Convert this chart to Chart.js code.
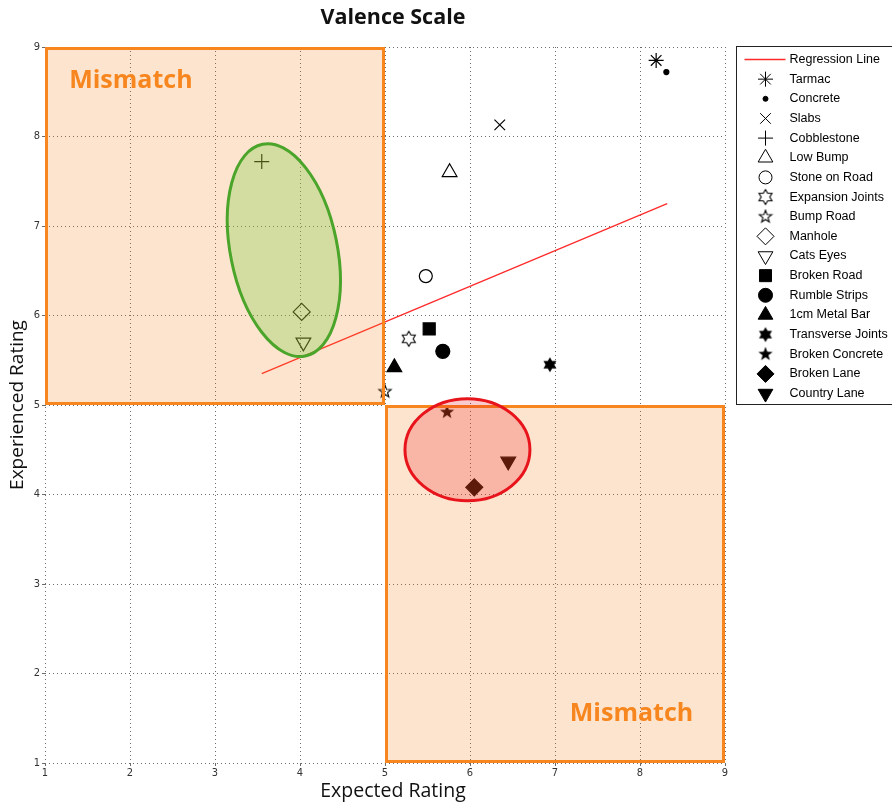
<!DOCTYPE html>
<html>
<head>
<meta charset="utf-8">
<title>Valence Scale</title>
<script src="https://cdn.jsdelivr.net/npm/chart.js@4/dist/chart.umd.min.js"></script>
<style>
  html, body { margin: 0; padding: 0; background: #ffffff; }
  #wrap { width: 892px; height: 804px; position: relative; }
</style>
</head>
<body>
<div id="wrap"><canvas id="chart" width="892" height="804"></canvas></div>
<script>
// ---- data ----
const surfaceNames = [
  'Tarmac', 'Concrete', 'Slabs', 'Cobblestone', 'Low Bump', 'Stone on Road',
  'Expansion Joints', 'Bump Road', 'Manhole', 'Cats Eyes', 'Broken Road',
  'Rumble Strips', '1cm Metal Bar', 'Transverse Joints', 'Broken Concrete',
  'Broken Lane', 'Country Lane'
];
const expectedRating = [8.19, 8.31, 6.35, 3.55, 5.76, 5.48, 5.28, 5.00, 4.02, 4.04, 5.52, 5.68, 5.11, 6.94, 5.73, 6.05, 6.45];
const experiencedRating = [8.85, 8.72, 8.13, 7.72, 7.60, 6.44, 5.74, 5.15, 6.04, 5.70, 5.85, 5.60, 5.42, 5.45, 4.92, 4.08, 4.37];

const regressionX = [3.55, 8.32];
const regressionY = [5.35, 7.25];

const xTicks = [1, 2, 3, 4, 5, 6, 7, 8, 9];
const yTicks = [1, 2, 3, 4, 5, 6, 7, 8, 9];

// mismatch quadrants: [xFrom, xTo, yFrom, yTo]
const mismatchUpperLeft = [1, 5, 5, 9];
const mismatchLowerRight = [5, 9, 1, 5];

// ---- marker shapes that Chart.js does not provide ----
function makeMarker(size, drawFn) {
  const c = document.createElement('canvas');
  c.width = size; c.height = size;
  const g = c.getContext('2d');
  g.translate(size / 2, size / 2);
  drawFn(g);
  return c;
}
function starPath(g, points, outer, inner) {
  g.beginPath();
  for (let i = 0; i < points * 2; i++) {
    const r = i % 2 === 0 ? outer : inner;
    const a = -Math.PI / 2 + i * Math.PI / points;
    const px = Math.cos(a) * r, py = Math.sin(a) * r;
    if (i === 0) g.moveTo(px, py); else g.lineTo(px, py);
  }
  g.closePath();
}
const hexOpen = makeMarker(18, g => { starPath(g, 6, 7.5, 7.5 / Math.sqrt(3)); g.lineWidth = 1.1; g.strokeStyle = '#000'; g.stroke(); });
const hexFilled = makeMarker(18, g => { starPath(g, 6, 7.5, 7.5 / Math.sqrt(3)); g.fillStyle = '#000'; g.fill(); });
const starOpen = makeMarker(16, g => { starPath(g, 5, 6.5, 2.7); g.lineWidth = 1.1; g.strokeStyle = '#000'; g.stroke(); });
const starFilled = makeMarker(18, g => { starPath(g, 5, 7.5, 3.1); g.fillStyle = '#000'; g.fill(); });

// marker appearance per surface (same order as surfaceNames)
const markerStyles = [
  { style: 'star', r: 7.5, fill: false },
  { style: 'circle', r: 2.5, fill: true },
  { style: 'crossRot', r: 7.5, fill: false },
  { style: 'cross', r: 7.5, fill: false },
  { style: 'triangle', r: 8.5, fill: false },
  { style: 'circle', r: 6.5, fill: false },
  { style: hexOpen, r: 8, fill: false },
  { style: starOpen, r: 7, fill: false },
  { style: 'rectRot', r: 8.5, fill: false },
  { style: 'triangle', r: 8.5, fill: false, rot: 180 },
  { style: 'rect', r: 8.5, fill: true },
  { style: 'circle', r: 7, fill: true },
  { style: 'triangle', r: 8.5, fill: true },
  { style: hexFilled, r: 8, fill: true },
  { style: starFilled, r: 8, fill: true },
  { style: 'rectRot', r: 8.5, fill: true },
  { style: 'triangle', r: 8.5, fill: true, rot: 180 }
];

const datasets = [{
  type: 'line',
  label: 'Regression Line',
  data: regressionX.map((v, i) => ({ x: v, y: regressionY[i] })),
  borderColor: '#ff2a2a',
  borderWidth: 1.3,
  pointRadius: 0,
  fill: false,
  order: 1
}];
surfaceNames.forEach((name, i) => {
  const m = markerStyles[i];
  datasets.push({
    type: 'scatter',
    label: name,
    data: [{ x: expectedRating[i], y: experiencedRating[i] }],
    pointStyle: m.style,
    pointRadius: m.r,
    pointRotation: m.rot || 0,
    pointBackgroundColor: m.fill ? '#000' : 'rgba(0,0,0,0)',
    pointBorderColor: '#000',
    pointBorderWidth: 1.2,
    order: 0
  });
});

// ---- overlay shading: mismatch quadrants and cluster ellipses ----
const clusterEllipses = [
  { cx: 3.81, cy: 6.73, rx: 0.628, ry: 1.207, rotDeg: -11.4, fill: 'rgba(120,205,60,0.30)', stroke: '#4aa52a' },
  { cx: 5.97, cy: 4.50, rx: 0.735, ry: 0.57, rotDeg: 0, fill: 'rgba(232,20,28,0.22)', stroke: '#e8141c' }
];

const overlayPlugin = {
  id: 'overlayPlugin',
  afterDatasetsDraw(chart) {
    const { ctx, scales: { x, y } } = chart;
    const pxX = Math.abs(x.getPixelForValue(2) - x.getPixelForValue(1));
    const pxY = Math.abs(y.getPixelForValue(2) - y.getPixelForValue(1));
    ctx.save();
    [mismatchUpperLeft, mismatchLowerRight].forEach(q => {
      const l = x.getPixelForValue(q[0]), r = x.getPixelForValue(q[1]);
      const t = y.getPixelForValue(q[3]), b = y.getPixelForValue(q[2]);
      ctx.fillStyle = 'rgba(245,130,32,0.22)';
      ctx.fillRect(l, t, r - l, b - t);
      ctx.strokeStyle = '#f7861f';
      ctx.lineWidth = 3;
      ctx.strokeRect(l + 1.5, t + 1.5, r - l - 3, b - t - 3);
    });
    clusterEllipses.forEach(e => {
      ctx.beginPath();
      ctx.ellipse(x.getPixelForValue(e.cx), y.getPixelForValue(e.cy), e.rx * pxX, e.ry * pxY,
        e.rotDeg * Math.PI / 180, 0, Math.PI * 2);
      ctx.fillStyle = e.fill;
      ctx.fill();
      ctx.strokeStyle = e.stroke;
      ctx.lineWidth = 3;
      ctx.stroke();
    });
    ctx.fillStyle = '#f7861f';
    ctx.font = 'bold 25px "Open Sans", sans-serif';
    ctx.textAlign = 'center';
    ctx.textBaseline = 'middle';
    ctx.fillText('Mismatch', x.getPixelForValue(2.01), y.getPixelForValue(8.62));
    ctx.fillText('Mismatch', x.getPixelForValue(7.90), y.getPixelForValue(1.55));
    ctx.restore();
  }
};

// ---- titles and the boxed legend ----
const framePlugin = {
  id: 'framePlugin',
  afterDraw(chart) {
    const { ctx, chartArea } = chart;
    const midX = (chartArea.left + chartArea.right) / 2 + 8;
    ctx.save();
    ctx.fillStyle = '#111';
    ctx.textAlign = 'center';
    ctx.textBaseline = 'middle';
    ctx.font = 'bold 21.5px "Open Sans", sans-serif';
    ctx.fillText('Valence Scale', midX, 18);
    ctx.font = '19.5px "Open Sans", sans-serif';
    ctx.fillText('Expected Rating', midX, 791);
    ctx.font = '19px "Open Sans", sans-serif';
    ctx.translate(18, (chartArea.top + chartArea.bottom) / 2);
    ctx.rotate(-Math.PI / 2);
    ctx.fillText('Experienced Rating', 0, 0);
    ctx.restore();

    // legend
    const left = chartArea.right + 11.5, top = 46.5;
    const rowH = 19.65;
    ctx.save();
    ctx.fillStyle = '#fff';
    ctx.fillRect(left, top, 200, 358);
    ctx.strokeStyle = '#222';
    ctx.lineWidth = 1;
    ctx.strokeRect(left, top, 200, 358);
    ctx.font = '12.5px "Liberation Sans", Arial, sans-serif';
    ctx.textBaseline = 'middle';
    ctx.textAlign = 'left';
    chart.data.datasets.forEach((ds, i) => {
      const cy = top + 13 + i * rowH;
      const mx = left + 29;
      if (ds.type === 'line') {
        ctx.strokeStyle = ds.borderColor;
        ctx.lineWidth = ds.borderWidth;
        ctx.beginPath();
        ctx.moveTo(left + 8, cy);
        ctx.lineTo(left + 49, cy);
        ctx.stroke();
      } else {
        ctx.fillStyle = ds.pointBackgroundColor;
        ctx.strokeStyle = ds.pointBorderColor;
        ctx.lineWidth = 1;
        Chart.helpers.drawPoint(ctx, {
          pointStyle: ds.pointStyle,
          rotation: ds.pointRotation,
          radius: ds.pointRadius,
          borderWidth: 1
        }, mx, cy);
      }
      ctx.fillStyle = '#000';
      ctx.fillText(ds.label, left + 53, cy);
    });
    ctx.restore();
  }
};

const tickFont = { family: '"Liberation Sans Narrow", "DejaVu Sans Condensed", sans-serif', size: 11 };

new Chart(document.getElementById('chart'), {
  data: { datasets },
  options: {
    responsive: false,
    animation: false,
    layout: { padding: { left: 0, top: 47, right: 167, bottom: 0 } },
    plugins: { legend: { display: false }, tooltip: { enabled: false }, title: { display: false } },
    scales: {
      x: {
        type: 'linear',
        min: xTicks[0], max: xTicks[xTicks.length - 1],
        afterBuildTicks: s => { s.ticks = xTicks.map(v => ({ value: v })); },
        afterFit: s => { s.height = 41; },
        ticks: { color: '#333', font: tickFont, padding: 1, maxRotation: 0 },
        grid: { color: '#6a6a6a', lineWidth: 1, tickLength: 3, drawTicks: true },
        border: { display: false, dash: [1, 3] }
      },
      y: {
        type: 'linear',
        min: yTicks[0], max: yTicks[yTicks.length - 1],
        afterBuildTicks: s => { s.ticks = yTicks.map(v => ({ value: v })); },
        afterFit: s => { s.width = 45; },
        ticks: { color: '#333', font: tickFont, padding: 2 },
        grid: { color: '#6a6a6a', lineWidth: 1, tickLength: 3, drawTicks: true },
        border: { display: false, dash: [1, 3] }
      }
    }
  },
  plugins: [overlayPlugin, framePlugin]
});
</script>
</body>
</html>
